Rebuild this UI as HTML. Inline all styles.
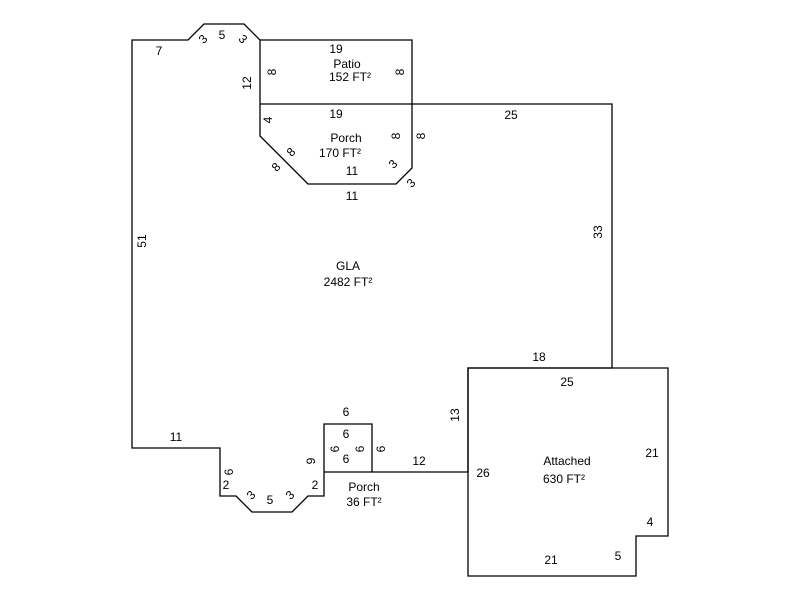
<!DOCTYPE html>
<html><head><style>body{margin:0;background:#fff}svg{display:block}text{font-family:"Liberation Sans",Arial,sans-serif;font-size:12px;fill:#000}</style></head><body>
<svg width="800" height="600" viewBox="0 0 800 600">
<g fill="none" stroke="#000" stroke-width="1.3">
<path d="M132,40 L188,40 L204,24 L244,24 L260,40 L260,104 L612,104 L612,368 L468,368 L468,472 L372,472 L372,424 L324,424 L324,496 L308,496 L292,512 L252,512 L236,496 L220,496 L220,448 L132,448 Z"/>
<path d="M260,40 L412,40 L412,104"/>
<path d="M260,104 L260,136 L308,184 L396,184 L412,168 L412,104"/>
<path d="M468,368 L668,368 L668,536 L636,536 L636,576 L468,576 Z"/>
<path d="M324,472 L372,472"/>
</g>
<g text-anchor="middle">
<text x="159" y="55">7</text>
<text x="222" y="39">5</text>
<text x="203" y="43" transform="rotate(-45 203 39)">3</text>
<text x="243" y="43" transform="rotate(45 243 39)">3</text>
<text x="336" y="53">19</text>
<text x="347" y="68">Patio</text>
<text x="350" y="81">152 FT²</text>
<text x="272" y="76" transform="rotate(-90 272 72)">8</text>
<text x="400" y="76" transform="rotate(-90 400 72)">8</text>
<text x="251" y="91" transform="rotate(-90 247 87)">12</text>
<text x="336" y="118">19</text>
<text x="511" y="119">25</text>
<text x="268" y="124" transform="rotate(-90 268 120)">4</text>
<text x="346" y="142">Porch</text>
<text x="340" y="157">170 FT²</text>
<text x="396" y="140" transform="rotate(-90 396 136)">8</text>
<text x="421" y="140" transform="rotate(-90 421 136)">8</text>
<text x="291" y="156" transform="rotate(-45 291 152)">8</text>
<text x="276" y="171" transform="rotate(-45 276 167)">8</text>
<text x="352" y="175">11</text>
<text x="352" y="200">11</text>
<text x="393" y="168" transform="rotate(-45 393 164)">3</text>
<text x="411" y="187" transform="rotate(-45 411 183)">3</text>
<text x="146" y="249" transform="rotate(-90 142 245)">51</text>
<text x="602" y="240" transform="rotate(-90 598 236)">33</text>
<text x="348" y="270">GLA</text>
<text x="348" y="286">2482 FT²</text>
<text x="539" y="361">18</text>
<text x="567" y="386">25</text>
<text x="459" y="423" transform="rotate(-90 455 419)">13</text>
<text x="346" y="416">6</text>
<text x="346" y="438">6</text>
<text x="346" y="463">6</text>
<text x="335" y="453" transform="rotate(-90 335 449)">6</text>
<text x="360" y="453" transform="rotate(-90 360 449)">6</text>
<text x="381" y="453" transform="rotate(-90 381 449)">6</text>
<text x="311" y="465" transform="rotate(-90 311 461)">9</text>
<text x="176" y="441">11</text>
<text x="419" y="465">12</text>
<text x="483" y="477">26</text>
<text x="567" y="465">Attached</text>
<text x="564" y="483">630 FT²</text>
<text x="652" y="457">21</text>
<text x="229" y="476" transform="rotate(-90 229 472)">6</text>
<text x="226" y="489">2</text>
<text x="315" y="489">2</text>
<text x="251" y="499" transform="rotate(-45 251 495)">3</text>
<text x="270" y="504">5</text>
<text x="290" y="499" transform="rotate(-45 290 495)">3</text>
<text x="364" y="491">Porch</text>
<text x="364" y="506">36 FT²</text>
<text x="650" y="526">4</text>
<text x="618" y="560">5</text>
<text x="551" y="564">21</text>
</g>
</svg>
</body></html>
